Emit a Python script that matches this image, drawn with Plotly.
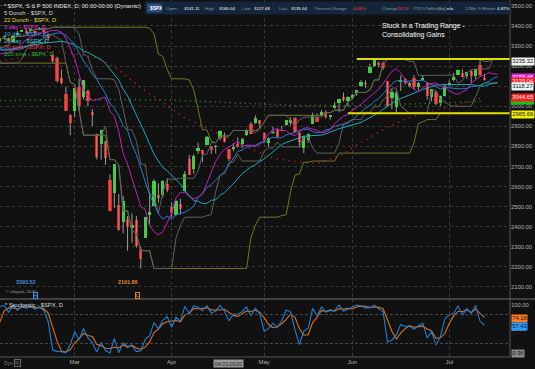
import numpy as np
import pandas as pd
import plotly.graph_objects as go
from plotly.subplots import make_subplots

# ---------------- data (S&P 500 daily, Jan 2 - Jul 14 2020) ----------------
dates = [
 "2020-01-02","2020-01-03","2020-01-06","2020-01-07","2020-01-08","2020-01-09","2020-01-10","2020-01-13","2020-01-14","2020-01-15",
 "2020-01-16","2020-01-17","2020-01-21","2020-01-22","2020-01-23","2020-01-24","2020-01-27","2020-01-28","2020-01-29","2020-01-30","2020-01-31",
 "2020-02-03","2020-02-04","2020-02-05","2020-02-06","2020-02-07","2020-02-10","2020-02-11","2020-02-12","2020-02-13","2020-02-14",
 "2020-02-18","2020-02-19","2020-02-20","2020-02-21","2020-02-24","2020-02-25","2020-02-26","2020-02-27","2020-02-28",
 "2020-03-02","2020-03-03","2020-03-04","2020-03-05","2020-03-06","2020-03-09","2020-03-10","2020-03-11","2020-03-12","2020-03-13",
 "2020-03-16","2020-03-17","2020-03-18","2020-03-19","2020-03-20","2020-03-23","2020-03-24","2020-03-25","2020-03-26","2020-03-27","2020-03-30","2020-03-31",
 "2020-04-01","2020-04-02","2020-04-03","2020-04-06","2020-04-07","2020-04-08","2020-04-09","2020-04-13","2020-04-14","2020-04-15",
 "2020-04-16","2020-04-17","2020-04-20","2020-04-21","2020-04-22","2020-04-23","2020-04-24","2020-04-27","2020-04-28","2020-04-29","2020-04-30",
 "2020-05-01","2020-05-04","2020-05-05","2020-05-06","2020-05-07","2020-05-08","2020-05-11","2020-05-12","2020-05-13","2020-05-14",
 "2020-05-15","2020-05-18","2020-05-19","2020-05-20","2020-05-21","2020-05-22","2020-05-26","2020-05-27","2020-05-28","2020-05-29",
 "2020-06-01","2020-06-02","2020-06-03","2020-06-04","2020-06-05","2020-06-08","2020-06-09","2020-06-10","2020-06-11","2020-06-12",
 "2020-06-15","2020-06-16","2020-06-17","2020-06-18","2020-06-19","2020-06-22","2020-06-23","2020-06-24","2020-06-25","2020-06-26","2020-06-29","2020-06-30",
 "2020-07-01","2020-07-02","2020-07-06","2020-07-07","2020-07-08","2020-07-09","2020-07-10","2020-07-13","2020-07-14",
]
opens = [
 3244.67,3226.36,3217.55,3241.86,3238.59,3266.03,3281.81,3271.13,3285.35,3282.27,
 3302.97,3323.66,3321.03,3330.02,3315.77,3333.10,3247.16,3255.35,3289.46,3256.45,3282.33,
 3235.66,3280.61,3324.91,3344.92,3335.54,3318.28,3365.87,3370.50,3365.90,3378.08,
 3369.04,3380.39,3380.45,3360.50,3257.61,3238.94,3139.90,3062.54,2916.90,
 2974.28,3096.46,3045.75,3075.70,2954.20,2863.89,2813.48,2825.60,2630.86,2569.99,
 2508.59,2425.66,2436.50,2393.48,2431.94,2290.71,2344.44,2457.77,2501.29,2555.87,2558.98,2614.69,
 2498.08,2458.54,2514.92,2578.28,2738.65,2685.00,2776.99,2782.46,2805.10,2795.64,
 2799.34,2842.43,2845.62,2784.81,2787.89,2810.42,2812.64,2854.65,2909.96,2918.46,2930.91,
 2869.09,2815.01,2868.88,2883.14,2878.26,2908.83,2915.46,2939.50,2865.86,2794.54,
 2829.95,2913.86,2948.59,2953.63,2969.95,2948.05,3004.08,3015.65,3046.61,3025.17,
 3038.78,3064.78,3098.90,3111.56,3163.84,3199.92,3213.32,3213.42,3123.53,3071.04,
 2993.76,3131.00,3136.13,3101.64,3140.29,3094.42,3138.70,3114.40,3046.60,3073.20,3018.59,3050.20,
 3105.92,3143.64,3155.29,3166.44,3153.07,3176.17,3152.47,3205.08,3141.11,
]
highs = [
 3258.14,3246.15,3246.84,3244.91,3267.07,3275.58,3282.99,3288.13,3294.25,3298.66,
 3317.11,3329.88,3329.79,3337.77,3326.88,3333.18,3258.85,3285.78,3293.47,3285.91,3282.33,
 3268.44,3306.92,3337.58,3347.96,3341.42,3352.26,3375.63,3381.47,3385.09,3380.69,
 3375.01,3393.52,3389.15,3360.76,3259.81,3246.99,3182.51,3097.07,2959.72,
 3090.96,3136.72,3130.97,3083.04,2985.93,2863.89,2882.59,2825.60,2660.95,2711.33,
 2562.98,2553.93,2453.57,2466.97,2453.01,2300.73,2449.71,2571.42,2637.01,2615.91,2631.80,2641.39,
 2522.75,2533.22,2538.18,2676.85,2756.89,2760.75,2818.57,2782.46,2851.85,2801.88,
 2806.51,2879.22,2868.98,2785.54,2815.10,2844.90,2842.71,2887.72,2921.15,2954.86,2930.91,
 2869.09,2844.24,2898.23,2891.11,2901.92,2932.16,2944.25,2945.82,2874.14,2852.80,
 2865.01,2968.09,2964.21,2980.29,2978.50,2956.76,3021.72,3036.25,3068.67,3049.17,
 3062.18,3081.07,3130.94,3128.91,3211.72,3233.13,3222.71,3223.27,3123.53,3088.42,
 3079.76,3153.45,3141.16,3120.00,3155.53,3120.92,3154.90,3115.01,3086.25,3073.73,3053.89,3111.51,
 3128.44,3165.81,3182.59,3184.15,3171.80,3179.78,3186.82,3235.32,3160.04,
]
lows = [
 3235.53,3222.34,3214.64,3232.43,3236.67,3263.67,3260.86,3268.43,3277.19,3280.69,
 3302.82,3318.86,3316.61,3320.04,3301.87,3281.53,3234.50,3253.22,3271.89,3242.80,3214.68,
 3235.66,3280.61,3313.75,3334.39,3322.12,3317.77,3352.72,3369.72,3360.52,3366.15,
 3355.61,3378.83,3341.02,3328.45,3214.65,3118.77,3108.99,2977.39,2855.84,
 2945.19,2976.63,3034.38,2999.83,2901.54,2734.43,2734.00,2707.22,2478.86,2492.37,
 2380.94,2367.04,2280.52,2319.78,2295.56,2191.86,2344.44,2407.53,2500.72,2520.02,2545.28,2571.15,
 2447.49,2455.79,2459.96,2574.57,2657.67,2663.30,2762.36,2721.17,2805.10,2761.54,
 2764.32,2830.88,2820.43,2727.10,2775.95,2794.26,2791.76,2852.89,2860.71,2912.16,2892.47,
 2821.61,2797.85,2863.55,2847.65,2876.48,2902.88,2903.44,2869.59,2793.15,2766.64,
 2816.78,2913.86,2922.35,2953.63,2938.57,2933.59,2988.17,2969.75,3023.40,2998.61,
 3031.54,3051.64,3098.90,3090.41,3163.84,3196.00,3193.11,3181.49,2999.49,2984.47,
 2965.66,3076.06,3108.03,3093.51,3083.11,3079.39,3127.12,3032.13,3024.01,3004.63,2999.74,3047.83,
 3101.17,3124.52,3155.29,3142.93,3136.53,3115.70,3136.22,3149.43,3127.68,
]
closes = [
 3257.85,3234.85,3246.28,3237.18,3253.05,3274.70,3265.35,3288.13,3283.15,3289.29,
 3316.81,3329.62,3320.79,3321.75,3325.54,3295.47,3243.63,3276.24,3273.40,3283.66,3225.52,
 3248.92,3297.59,3334.69,3345.78,3327.71,3352.09,3357.75,3379.45,3373.94,3380.16,
 3370.29,3386.15,3373.23,3337.75,3225.89,3128.21,3116.39,2978.76,2954.22,
 3090.23,3003.37,3130.12,3023.94,2972.37,2746.56,2882.23,2741.38,2480.64,2711.02,
 2386.13,2529.19,2398.10,2409.39,2304.92,2237.40,2447.33,2475.56,2630.07,2541.47,2626.65,2584.59,
 2470.50,2526.90,2488.65,2663.68,2659.41,2749.98,2789.82,2761.63,2846.06,2783.36,
 2799.55,2874.56,2823.16,2736.56,2799.31,2797.80,2836.74,2878.48,2863.39,2939.51,2912.43,
 2830.71,2842.74,2868.44,2848.42,2881.19,2929.80,2930.32,2870.12,2820.00,2852.50,
 2863.70,2953.91,2922.94,2971.61,2948.51,2955.45,2991.77,3036.13,3029.73,3044.31,
 3055.73,3080.82,3122.87,3112.35,3193.93,3232.39,3207.18,3190.14,3002.10,3041.31,
 3066.59,3124.74,3113.49,3115.34,3097.74,3117.86,3131.29,3050.33,3083.76,3009.05,3053.24,3100.29,
 3115.86,3130.01,3179.72,3145.32,3169.94,3152.05,3185.04,3155.22,3135.04,
]

# 50 sma / 200 sma (dotted lines)
sma50_dates = ["2020-02-05","2020-02-07","2020-02-14","2020-02-21","2020-02-28","2020-03-09","2020-03-16",
               "2020-03-23","2020-03-30","2020-04-06","2020-04-14","2020-04-21","2020-04-28","2020-05-05",
               "2020-05-12","2020-05-19","2020-05-27","2020-06-03","2020-06-10","2020-06-17","2020-06-24",
               "2020-07-01","2020-07-09","2020-07-14"]
sma50_vals = [3224.0,3230.9,3254.9,3274.0,3266.0,3240.2,3180.4,3093.1,3018.7,2941.5,2891.6,2840.8,
              2787.5,2741.5,2725.3,2716.0,2750.1,2819.2,2883.5,2935.8,2969.9,2996.8,3028.8,3044.65]
sma200_dates = ["2020-02-05","2020-03-09","2020-03-30","2020-04-21","2020-05-12","2020-06-01",
                "2020-06-17","2020-07-01","2020-07-14"]
sma200_vals = [3028.0,3034.0,3032.0,3018.0,3004.0,3002.0,3010.0,3018.0,3026.0]

month_names = ["Mar", "Apr", "May", "Jun", "Jul"]
range_high = 3235.32
range_low = 2965.66
range_high_from = "2020-06-02"
range_low_from = "2020-05-29"
stamp_date = "2020-04-21"
header_items = [("Open", "3141.11"), ("High", "3160.04"), ("Low", "3127.68"), ("Last", "3135.04"),
                ("Percent Change", "-0.64%"), ("Change", "-20.18"), ("YTD%ToRef(Adj)", "n/a"),
                ("12Mo % Return", "4.87%")]

# ---------------- derived indicators ----------------
df = pd.DataFrame({"o": opens, "h": highs, "l": lows, "c": closes})
n = len(df)
idx = np.arange(n)
pos = {d: i for i, d in enumerate(dates)}
DISP = 3
sma5 = df.c.rolling(5).mean()
sma10 = df.c.rolling(10).mean()
sma20 = df.c.rolling(20).mean()
d5h = df.h.rolling(5, min_periods=1).max(); d5l = df.l.rolling(5, min_periods=1).min()
d22h = df.h.rolling(22, min_periods=1).max(); d22l = df.l.rolling(22, min_periods=1).min()
hh = df.h.rolling(14).max(); ll = df.l.rolling(14).min()
stK = 100 * (df.c - ll) / (hh - ll)
stD = stK.rolling(3).mean()

prev = df.c.shift(1).fillna(df.c)
up = df.c >= prev
body_lo = np.minimum(df.o, df.c)
body_h = np.abs(df.c - df.o)
body_col = np.where(up, "#22e022", "#f01c1c")

wx, wy = [], []
for i in range(n):
    wx += [i, i, None]; wy += [lows[i], highs[i], None]

# ---------------- geometry ----------------
W, H = 535, 369
PW = 510
PB = 12
PH = H - PB
X0 = 40 - 74.7 / 4.406
X1 = 40 + (PW - 74.7) / 4.406
def py(p):
    return 1 - p / PH
def px(p):
    return p / PW
FONT = "Liberation Sans, Arial, sans-serif"

fig = make_subplots(rows=2, cols=1, shared_xaxes=True, vertical_spacing=0.003)

fig.add_trace(go.Scatter(x=wx, y=wy, mode="lines", line=dict(color="#9a9a9a", width=1),
                         hoverinfo="skip"), row=1, col=1)
xd = idx + DISP
def ln(x, y, color, width=1.0, dash=None):
    fig.add_trace(go.Scatter(x=x, y=y, mode="lines",
                             line=dict(color=color, width=width, dash=dash), hoverinfo="skip"), row=1, col=1)
ln([pos[d] for d in sma200_dates], sma200_vals, "#1f9a1f", 1.6, "1px,4px")
ln([pos[d] for d in sma50_dates], sma50_vals, "#d82020", 1.6, "1px,5px")
ln(xd, d22h, "#75732a", 1); ln(xd, d22l, "#75732a", 1)
ln(xd, d5h, "#606060", 1); ln(xd, d5l, "#606060", 1)
ln(xd, sma20, "#20a8b8", 1.0)
ln(xd, sma10, "#2c7ccc", 1.0)
ln(xd, sma5, "#bb22bb", 1.0)

fig.add_trace(go.Bar(x=idx, y=body_h, base=body_lo, width=0.74,
                     marker=dict(color=body_col, line=dict(width=0)), hoverinfo="skip"), row=1, col=1)

fig.add_trace(go.Scatter(x=idx, y=stD, mode="lines", line=dict(color="#e0701e", width=1.1),
                         hoverinfo="skip"), row=2, col=1)
fig.add_trace(go.Scatter(x=idx, y=stK, mode="lines", line=dict(color="#1f7fd8", width=1.1),
                         hoverinfo="skip"), row=2, col=1)

month_idx = []
for i in range(1, n):
    if dates[i][5:7] != dates[i - 1][5:7] and int(dates[i][5:7]) >= 3:
        month_idx.append(i)

grid = "#3a3a3a"
fig.update_layout(
    width=W, height=H, margin=dict(l=0, r=W - PW, t=0, b=PB),
    paper_bgcolor="#111111", plot_bgcolor="#111111", showlegend=False,
    bargap=0, font=dict(family=FONT, color="#b4b4b4", size=6),
    xaxis=dict(range=[X0, X1], tickvals=month_idx, showticklabels=False, showgrid=True,
               gridcolor=grid, griddash="dot", gridwidth=1, zeroline=False, showline=False, ticks=""),
    xaxis2=dict(range=[X0, X1], tickvals=month_idx, ticktext=month_names, showgrid=True,
                gridcolor=grid, griddash="dot", gridwidth=1, zeroline=False, showline=False, ticks="",
                tickfont=dict(size=6, color="#b0b0b0")),
    yaxis=dict(domain=[py(298), 1], range=[3300 - (298 - 46) / 0.2008, 3300 + 46 / 0.2008],
               side="right", tick0=0, dtick=100, tickformat=".2f", showgrid=True, gridcolor=grid,
               griddash="dot", zeroline=False, ticks="", tickfont=dict(size=5.8, color="#b4b4b4"),
               automargin=False),
    yaxis2=dict(domain=[0, py(299)], range=[-4 / 0.48, 100 + 6 / 0.48], side="right",
                tickvals=[50, 100], ticktext=["50.00", "100.00"], showgrid=False, zeroline=False,
                ticks="", tickfont=dict(size=5.8, color="#b4b4b4"), automargin=False),
)

shapes = []
for lv in (80, 20):
    shapes.append(dict(type="line", xref="paper", yref="y2", x0=0, x1=1, y0=lv, y1=lv,
                       line=dict(color="#4c4c4c", width=1, dash="3px,2px")))
shapes.append(dict(type="line", xref="x", yref="y", x0=pos[range_high_from], x1=X1 + 0.3,
                   y0=range_high, y1=range_high, line=dict(color="#dede00", width=2)))
shapes.append(dict(type="line", xref="x", yref="y", x0=pos[range_low_from], x1=X1 + 0.3,
                   y0=range_low, y1=range_low, line=dict(color="#dede00", width=2)))
shapes.append(dict(type="line", xref="paper", yref="paper", x0=0, x1=W / PW, y0=py(299), y1=py(299),
                   line=dict(color="#707070", width=1)))
shapes.append(dict(type="line", xref="paper", yref="paper", x0=1, x1=1, y0=0, y1=1,
                   line=dict(color="#555555", width=1)))
shapes.append(dict(type="line", xref="paper", yref="paper", x0=0, x1=1, y0=py(357), y1=py(357),
                   line=dict(color="#555555", width=1)))
shapes.append(dict(type="rect", xref="paper", yref="paper", x0=px(145), x1=1, y0=py(14.5), y1=py(1.5),
                   fillcolor="#14263b", line=dict(width=0), layer="above"))
shapes.append(dict(type="rect", xref="paper", yref="paper", x0=px(147), x1=px(161.5), y0=py(12.5), y1=py(3.5),
                   fillcolor="#2c4f7e", line=dict(width=0), layer="above"))
# 200 sma value tag, mostly hidden under the 50 sma tag
shapes.append(dict(type="rect", xref="paper", yref="paper", x0=px(511), x1=px(534), y0=py(104.5), y1=py(99),
                   fillcolor="#18c018", line=dict(width=0), layer="above"))
fig.update_layout(shapes=shapes)

ann = []
def txt(text, x, y, color, size=5.8, xanchor="left", **kw):
    ann.append(dict(text=text, x=px(x), y=py(y), xref="paper", yref="paper", xanchor=xanchor,
                    yanchor="middle", showarrow=False, align="left",
                    font=dict(color=color, size=size, family=FONT), **kw))

legend_lines = [("* $SPX, S & P 500 INDEX, D, 00:00-00:00 (Dynamic)", "#e6e6e6"),
                ("5 Donch - $SPX, D", "#d8d8d8"), ("22 Donch - $SPX, D", "#dede3a"),
                ("5 day - $SPX, D", "#e23ce2"), ("10 day - $SPX, D", "#4a9ee6"),
                ("20 day - $SPX, D", "#3cc8cc"), ("50 sma - $SPX, D", "#e63232"),
                ("200 sma - $SPX, D", "#2ab42a")]
for k, (t, c) in enumerate(legend_lines):
    txt(t, 2, 6 + k * 6.9, c)

# header
txt("<b>$SPX</b>", 148, 8, "#ffffff", 4.8)
hx = [164, 203, 240, 277, 313, 380, 411, 463]
vx = [181.5, 216.5, 251.5, 289, 350, 394, 445, 495]
for (lab, val), a, b in zip(header_items, hx, vx):
    txt(lab, a, 8, "#8d9bb0", 4.4)
    vc = "#ff3a3a" if val.startswith("-") else "#ffffff"
    txt(val, b, 8, vc, 4.4)

txt("Stuck in a Trading Range -<br>Consolidating Gains", 380, 30, "#ffffff", 7)

def vlabel(text, y, bg, fg):
    ann.append(dict(text=text, x=px(511), y=py(y), xref="paper", yref="paper", xanchor="left",
                    yanchor="middle", showarrow=False, bgcolor=bg, borderpad=0.3,
                    font=dict(color=fg, size=5.8, family=FONT)))
vlabel(f"{range_high:.2f}", 61, "#f2f2f2", "#111111")
vlabel(f"{sma5.iloc[-1]:.2f}", 77, "#e41ee4", "#ffffff")
vlabel(f"{closes[-1]:.2f}", 81.5, "#ff1c1c", "#ffffff")
vlabel(f"{sma20.iloc[-1]:.2f}", 86.5, "#e6f6f8", "#111111")
vlabel(f"{sma50_vals[-1]:.2f}", 97.5, "#ff1c1c", "#ffffff")
vlabel(f"{range_low:.2f}", 115, "#f0f000", "#111111")
vlabel(f"{stD.iloc[-1]:.2f}", 318, "#ff7a1e", "#111111")
vlabel(f"{stK.iloc[-1]:.2f}", 326, "#2a9cff", "#0a1a2a")
vlabel("0:36", 353, "#8a8a8a", "#111111")

vis = [i for i in range(n) if i >= X0]
ih = max(vis, key=lambda i: highs[i]); il = min(vis, key=lambda i: lows[i])
for i, val, col, letter in ((ih, highs[ih], "#3d8fd8", "H"), (il, lows[il], "#e0862a", "L")):
    ann.append(dict(text=f"<b>{val:.2f}</b>", x=i, xref="x", y=py(282), yref="paper", xanchor="right",
                    xshift=-1, yanchor="middle", showarrow=False,
                    font=dict(color=col, size=5.4, family=FONT)))
    ann.append(dict(text=f"<b>{letter}</b>", x=i, xref="x", y=py(295), yref="paper", xanchor="right",
                    xshift=-1, yanchor="middle", showarrow=False, bordercolor=col, borderwidth=1,
                    borderpad=0, font=dict(color=col, size=4.4, family=FONT)))
txt("© eSignal, 2020", 4, 291, "#9a9a9a", 4.2)
txt("* Stochastic - $SPX, D", 3, 305, "#dcdcdc", 5.8)
txt("Dyn", 2, 363, "#7a7a7a", 5)
ann.append(dict(text="lg", x=px(14), y=py(363), xref="paper", yref="paper", xanchor="left",
                yanchor="middle", showarrow=False, bordercolor="#6a6a6a", borderwidth=1, borderpad=0.3,
                font=dict(color="#7a7a7a", size=4.5, family=FONT)))
ann.append(dict(text="04/21/2020", x=pos[stamp_date], xref="x", y=py(363), yref="paper",
                xanchor="center", yanchor="middle", showarrow=False, bgcolor="#9a9a9a", borderpad=0.5,
                font=dict(color="#1a1a1a", size=5.5, family=FONT)))
fig.update_layout(annotations=ann)

fig.write_html("out.html", config={"displayModeBar": False},
               post_script="document.body.style.margin='0';document.body.style.overflow='hidden';")
